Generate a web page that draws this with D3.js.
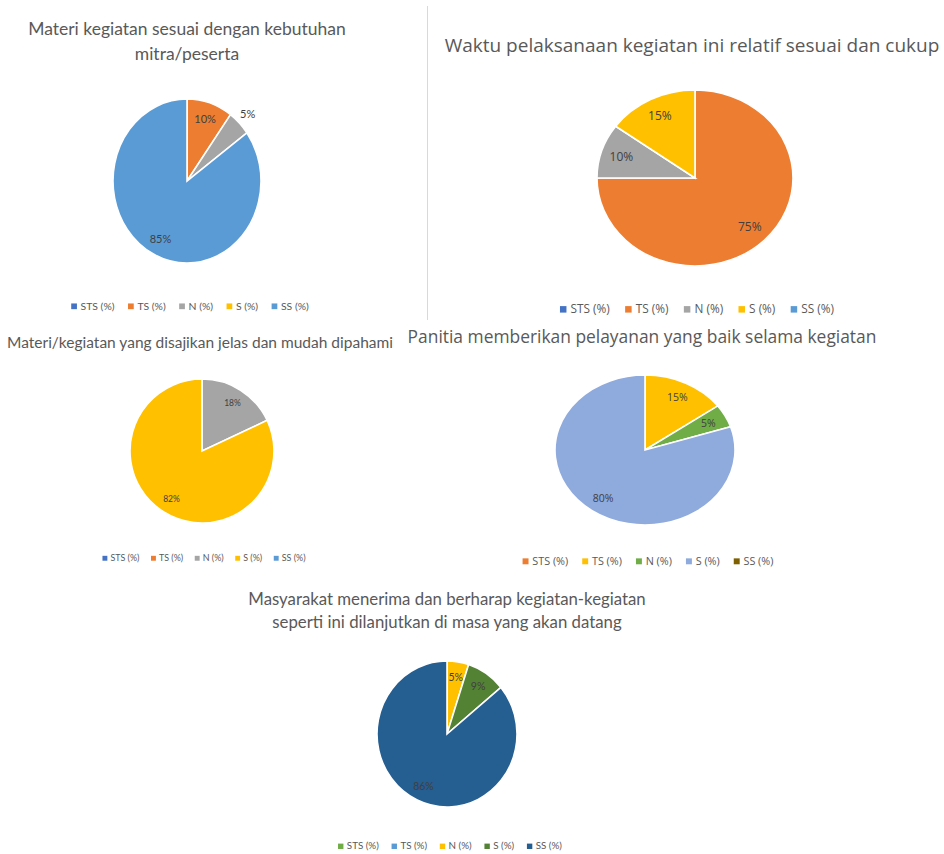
<!DOCTYPE html>
<html><head><meta charset="utf-8">
<script src="https://cdn.jsdelivr.net/npm/d3@7/dist/d3.min.js"></script>
<style>body{margin:0;background:#fff}svg{display:block}</style>
</head><body><svg id="c" width="944" height="854"></svg>
<script>
const categories = ["STS (%)", "TS (%)", "N (%)", "S (%)", "SS (%)"];

const title1 = ["Materi kegiatan sesuai dengan kebutuhan", "mitra/peserta"];
const values1 = [0, 10, 5, 0, 85];
const colors1 = ["#4472C4", "#ED7D31", "#A5A5A5", "#FFC000", "#5B9BD5"];

const title2 = ["Waktu pelaksanaan kegiatan ini relatif sesuai dan cukup"];
const values2 = [0, 75, 10, 15, 0];
const colors2 = ["#4472C4", "#ED7D31", "#A5A5A5", "#FFC000", "#5B9BD5"];

const title3 = ["Materi/kegiatan yang disajikan jelas dan mudah dipahami"];
const values3 = [0, 0, 18, 82, 0];
const colors3 = ["#4472C4", "#ED7D31", "#A5A5A5", "#FFC000", "#5B9BD5"];

const title4 = ["Panitia memberikan pelayanan yang baik selama kegiatan"];
const values4 = [0, 15, 5, 80, 0];
const colors4 = ["#ED7D31", "#FFC000", "#70AD47", "#8FAADC", "#7F6000"];

const title5 = ["Masyarakat menerima dan berharap kegiatan-kegiatan", "seperti ini dilanjutkan di masa yang akan datang"];
const values5 = [0, 0, 5, 9, 86];
const colors5 = ["#70AD47", "#5B9BD5", "#FFC000", "#548235", "#255E91"];

// layout (not data)
const layouts = [
  {title: title1, values: values1, colors: colors1, cx: 187, cy: 181, rx: 74, ry: 82,
   titleX: 187, titleY: [35, 60], titleFont: "Lato", titleSize: 17.5,
   labelSize: 11, legendX: 190, legendY: 306, legendSize: 10.4, legendFont: "Lato", outsideSmall: true},
  {title: title2, values: values2, colors: colors2, cx: 695, cy: 178, rx: 98, ry: 88,
   titleX: 692, titleY: [52], titleFont: "Open Sans", titleSize: 19,
   labelSize: 12, legendX: 697, legendY: 309, legendSize: 11.8, legendFont: "Open Sans", outsideSmall: false},
  {title: title3, values: values3, colors: colors3, cx: 202, cy: 451, rx: 72, ry: 72,
   titleX: 200, titleY: [348], titleFont: "Lato", titleSize: 15.5,
   labelSize: 8.5, legendX: 204, legendY: 558, legendSize: 8.9, legendFont: "Lato", outsideSmall: false},
  {title: title4, values: values4, colors: colors4, cx: 645, cy: 450, rx: 90, ry: 75,
   titleX: 642, titleY: [343], titleFont: "Open Sans", titleSize: 17.4,
   labelSize: 10.5, legendX: 648, legendY: 561, legendSize: 10.8, legendFont: "Open Sans", outsideSmall: false},
  {title: title5, values: values5, colors: colors5, cx: 447, cy: 734, rx: 70, ry: 73,
   titleX: 447, titleY: [605, 628], titleFont: "Lato", titleSize: 16.8,
   labelSize: 10.5, legendX: 450, legendY: 846, legendSize: 9.8, legendFont: "Lato", outsideSmall: false}
];

const svg = d3.select("#c");
svg.append("rect").attr("width", 944).attr("height", 854).attr("fill", "#fff");

// divider line between top charts
svg.append("line").attr("x1", 427.5).attr("x2", 427.5).attr("y1", 6).attr("y2", 320)
  .attr("stroke", "#d9d9d9").attr("stroke-width", 1);

const pie = d3.pie().sort(null).value(d => d.v);

layouts.forEach(L => {
  const g = svg.append("g");
  L.title.forEach((t, i) => {
    g.append("text").attr("x", L.titleX).attr("y", L.titleY[i])
      .attr("text-anchor", "middle").attr("font-family", L.titleFont)
      .attr("font-size", L.titleSize).attr("fill", "#595959").text(t);
  });
  const data = categories.map((c, i) => ({c, v: L.values[i], col: L.colors[i]}));
  const arcs = pie(data).filter(a => a.data.v > 0);
  const R = L.ry;
  const sx = L.rx / L.ry;
  const arc = d3.arc().innerRadius(0).outerRadius(R);
  const pg = g.append("g").attr("transform", `translate(${L.cx},${L.cy}) scale(${sx},1)`);
  pg.selectAll("path").data(arcs).join("path")
    .attr("d", arc).attr("fill", a => a.data.col)
    .attr("stroke", "#fff").attr("stroke-width", 1.6)
    .attr("vector-effect", "non-scaling-stroke");
  arcs.forEach(a => {
    const mid = (a.startAngle + a.endAngle) / 2;
    const outside = L.outsideSmall && a.data.v <= 5;
    const f = outside ? 1.16 : 0.79;
    const x = L.cx + Math.sin(mid) * L.rx * f;
    const y = L.cy - Math.cos(mid) * L.ry * f;
    g.append("text").attr("x", x).attr("y", y).attr("dy", "0.35em")
      .attr("text-anchor", "middle").attr("font-family", L.legendFont)
      .attr("font-size", L.labelSize).attr("fill", "#404040")
      .text(d3.format(".0f")(a.data.v) + "%");
  });
  const lg = g.append("g");
  const items = [];
  const mk = L.legendSize * 0.55, gap = L.legendSize * 1.3;
  data.forEach(d => {
    const it = lg.append("g");
    it.append("rect").attr("x", 0).attr("y", -mk / 2 - L.legendSize * 0.32).attr("width", mk).attr("height", mk).attr("fill", d.col);
    const t = it.append("text").attr("x", mk + L.legendSize * 0.35).attr("y", 0)
      .attr("font-family", L.legendFont).attr("font-size", L.legendSize).attr("fill", "#595959").text(d.c);
    const w = mk + L.legendSize * 0.35 + t.node().getComputedTextLength();
    items.push({it, w});
  });
  const total = d3.sum(items, d => d.w) + gap * (items.length - 1);
  let cur = L.legendX - total / 2;
  items.forEach(o => { o.it.attr("transform", `translate(${cur},${L.legendY + L.legendSize * 0.35})`); cur += o.w + gap; });
});
</script></body></html>
